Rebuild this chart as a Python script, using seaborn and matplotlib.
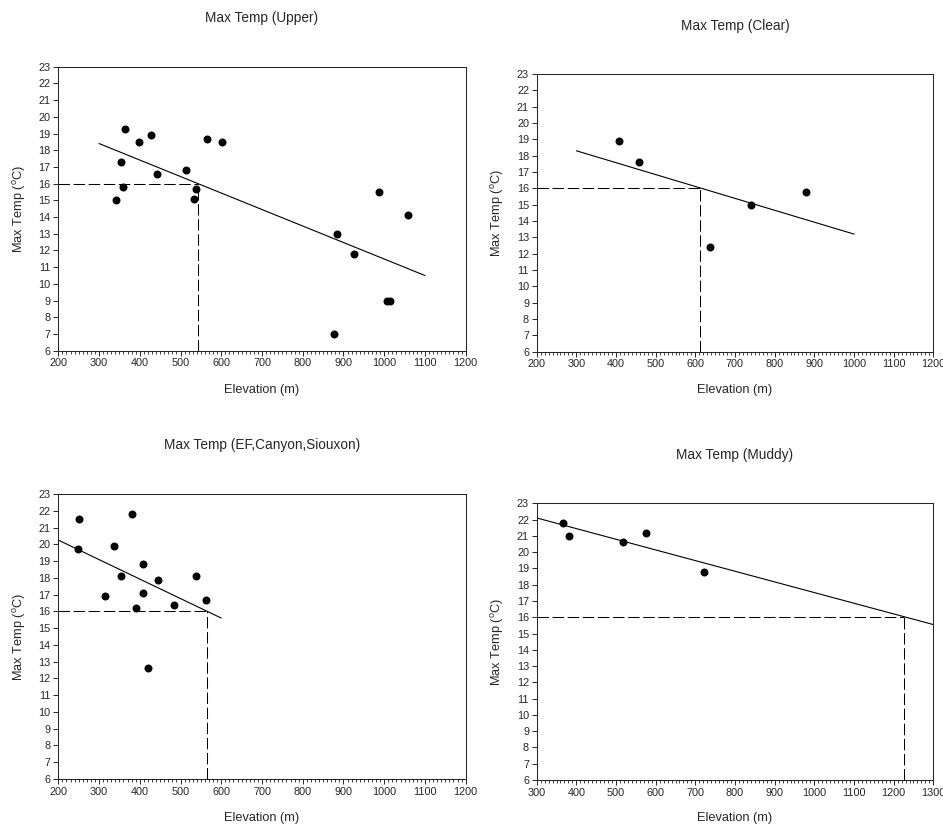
import matplotlib
matplotlib.use("Agg")
import matplotlib.pyplot as plt
import seaborn as sns
import pandas as pd
from matplotlib.ticker import MultipleLocator

# Upper
upper_elev = [341, 355, 358, 363, 397, 427, 443, 513, 534, 538, 564, 602,
              876, 885, 927, 986, 1006, 1015, 1059]
upper_temp = [15.0, 17.3, 15.8, 19.3, 18.5, 18.9, 16.6, 16.8, 15.1, 15.7, 18.7, 18.5,
              7.0, 13.0, 11.8, 15.5, 9.0, 9.0, 14.1]
upper_fit_x = [300, 1100]
upper_fit_y = [18.4, 10.5]
upper_cross = 542

# Clear
clear_elev = [407, 458, 638, 740, 879]
clear_temp = [18.9, 17.6, 12.4, 15.0, 15.8]
clear_fit_x = [300, 1000]
clear_fit_y = [18.3, 13.2]
clear_cross = 613

# EF, Canyon, Siouxon
ef_elev = [250, 248, 315, 336, 355, 381, 391, 409, 409, 420, 445, 484, 537, 563]
ef_temp = [21.5, 19.7, 16.9, 19.9, 18.1, 21.8, 16.2, 18.8, 17.1, 12.6, 17.9, 16.4, 18.1, 16.7]
ef_fit_x = [200, 600]
ef_fit_y = [20.25, 15.6]
ef_cross = 564

# Muddy
muddy_elev = [367, 381, 517, 576, 721]
muddy_temp = [21.8, 21.0, 20.6, 21.2, 18.8]
muddy_fit_x = [300, 1300]
muddy_fit_y = [22.1, 15.55]
muddy_cross = 1227

threshold = 16

sns.set_style("ticks")
plt.rcParams['font.family'] = ['Liberation Sans', 'DejaVu Sans']
plt.rcParams['mathtext.fontset'] = 'custom'
plt.rcParams['mathtext.rm'] = 'Liberation Sans'
plt.rcParams['mathtext.it'] = 'Liberation Sans:italic'

W, H = 943, 827
fig = plt.figure(figsize=(W / 100, H / 100), dpi=100)

panels = [
    ("Max Temp (Upper)", upper_elev, upper_temp, upper_fit_x, upper_fit_y, upper_cross,
     (58.3, 465.7, 66.7, 350.7), (200, 1200), 18, 390, 19),
    ("Max Temp (Clear)", clear_elev, clear_temp, clear_fit_x, clear_fit_y, clear_cross,
     (536.7, 933.3, 74, 351.7), (200, 1200), 26, 390, 498),
    ("Max Temp (EF,Canyon,Siouxon)", ef_elev, ef_temp, ef_fit_x, ef_fit_y, ef_cross,
     (58.3, 465.7, 494, 779), (200, 1200), 445, 818, 19),
    ("Max Temp (Muddy)", muddy_elev, muddy_temp, muddy_fit_x, muddy_fit_y, muddy_cross,
     (536.7, 933.3, 503.3, 780), (300, 1300), 455, 818, 498),
]

for title, ex, tp, fx, fy, cross, box, xlim, ty, xly, ylx in panels:
    l, r, t, b = box
    ax = fig.add_axes([l / W, 1 - b / H, (r - l) / W, (b - t) / H])
    df = pd.DataFrame({"elev": ex, "temp": tp})
    fit = pd.DataFrame({"elev": fx, "temp": fy})

    # threshold guide lines
    hl, = ax.plot([xlim[0], cross], [threshold, threshold], color="black", lw=0.75)
    vl, = ax.plot([cross, cross], [6, threshold], color="black", lw=0.75)
    for ln in (hl, vl):
        ln.set_dashes([11, 3.5])

    sns.lineplot(data=fit, x="elev", y="temp", ax=ax, color="black", lw=0.8)
    sns.scatterplot(data=df, x="elev", y="temp", ax=ax, color="black", s=33,
                    edgecolor="black", linewidth=0, zorder=3)

    ax.set_xlim(*xlim)
    ax.set_ylim(6, 23)
    ax.xaxis.set_major_locator(MultipleLocator(100))
    ax.xaxis.set_minor_locator(MultipleLocator(10))
    ax.yaxis.set_major_locator(MultipleLocator(1))
    ax.tick_params(axis="both", which="major", direction="out", length=3.5, width=0.7,
                   labelsize=7.8, pad=2)
    ax.tick_params(axis="x", which="minor", direction="out", length=2.2, width=0.6)
    for sp in ax.spines.values():
        sp.set_visible(True)
        sp.set_linewidth(0.75)
    ax.set_xlabel("")
    ax.set_ylabel("")

    cx = (l + r) / 2
    fig.text(cx / W, 1 - ty / H, title, ha="center", va="center", fontsize=9.8)
    fig.text(cx / W, 1 - xly / H, "Elevation (m)", ha="center", va="center", fontsize=9.2)
    fig.text(ylx / W, 1 - ((t + b) / 2) / H, r"Max Temp ($\mathregular{^o}$C)",
             ha="center", va="center", rotation=90, fontsize=9.2)

fig.savefig("out.png", dpi=100)
